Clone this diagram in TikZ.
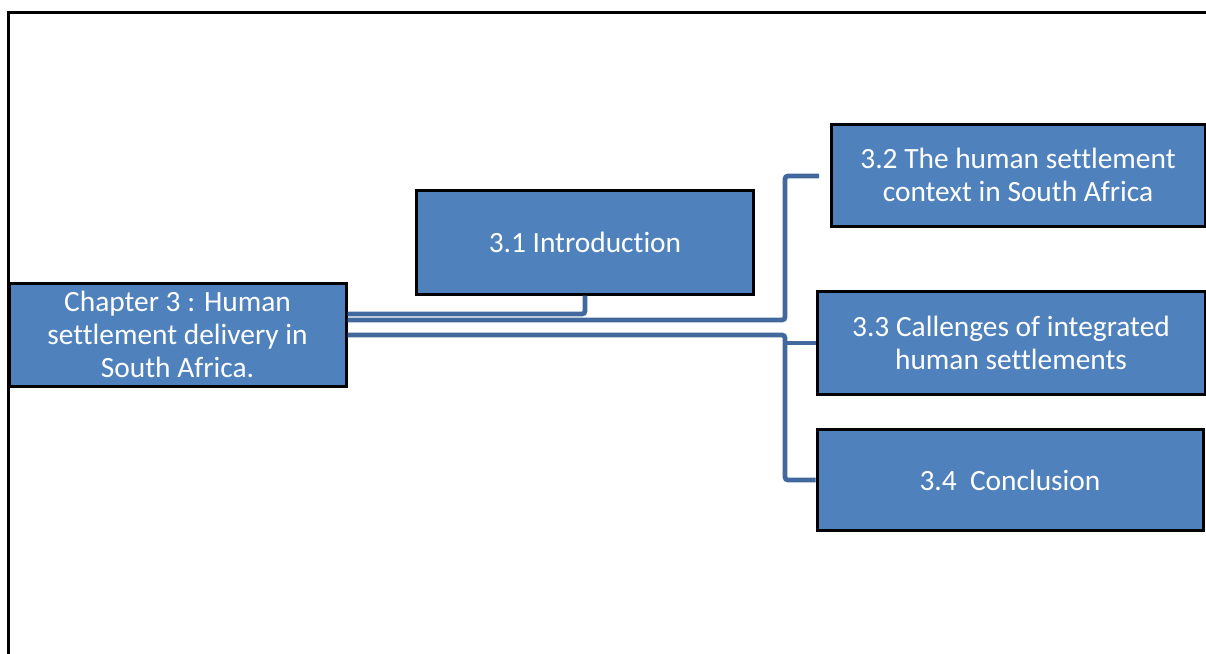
\documentclass[tikz,border=0pt]{standalone}
\usepackage{fontspec}
\setmainfont{Carlito}[Ligatures=NoCommon]
\definecolor{boxblue}{HTML}{4F81BD}
\definecolor{linkblue}{HTML}{41699D}
\tikzset{
  topic/.style={draw=black, line width=3pt, fill=boxblue, text=white,
    align=center, inner sep=0pt, font=\fontsize{29.4}{33}\selectfont},
  link/.style={draw=linkblue, line width=4.8pt, rounded corners=3pt},
  frame/.style={draw=black, line width=3pt}
}
\begin{document}
\begin{tikzpicture}[x=1pt,y=-1pt]
  \useasboundingbox (0,0) rectangle (1206,653);
  % page frame (top and left edges)
  \draw[frame] (8.5,660) -- (8.5,12.5) -- (1215,12.5);

  % topic boxes
  \node[topic, minimum width=337pt, minimum height=103pt] (ch) at (177.5,334.5)
    {Chapter 3 : Human\\settlement delivery in\\South Africa.};
  \node[topic, minimum width=337pt, minimum height=104pt] (intro) at (585,242)
    {3.1 Introduction};
  \node[topic, minimum width=374pt, minimum height=102pt] (p32) at (1018,175)
    {3.2 The human settlement\\context in South Africa};
  \node[topic, minimum width=388pt, minimum height=103pt] (p33) at (1011,342.5)
    {3.3 Callenges of integrated\\human settlements};
  \node[topic, minimum width=386pt, minimum height=101pt] (p34) at (1010,480)
    {3.4~~Conclusion};

  % spine and free end of the upper branch
  \coordinate (spine) at (785,0);
  \coordinate (t32) at (819,176);

  % connectors
  \draw[link] (ch.east |- 0,314) -| (intro.south);
  \draw[link] (ch.east |- 0,320) -| (t32 -| spine) -- (t32);
  \draw[link] (ch.east |- 0,335) -| (p34.west -| spine) -- (p34.west);
  \draw[link] (spine |- 0,343) -- (p33.west |- 0,343);
\end{tikzpicture}
\end{document}
